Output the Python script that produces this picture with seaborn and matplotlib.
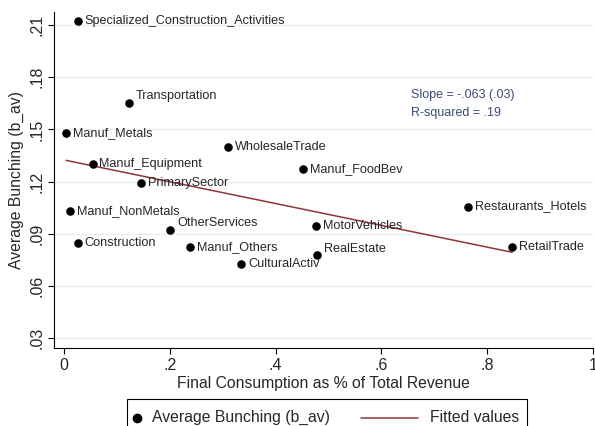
import numpy as np
import pandas as pd
import matplotlib
matplotlib.use("Agg")
import matplotlib.pyplot as plt
import seaborn as sns
from matplotlib.lines import Line2D
from matplotlib.patches import Rectangle

sectors = ["Specialized_Construction_Activities", "Transportation", "Manuf_Metals",
           "WholesaleTrade", "Manuf_Equipment", "PrimarySector", "Manuf_FoodBev",
           "Restaurants_Hotels", "MotorVehicles", "RealEstate", "RetailTrade",
           "Manuf_NonMetals", "OtherServices", "Construction", "Manuf_Others",
           "CulturalActiv"]
final_cons = [0.026, 0.123, 0.004, 0.310, 0.054, 0.146, 0.451, 0.763, 0.477,
              0.478, 0.847, 0.012, 0.201, 0.026, 0.239, 0.335]
bunching = [0.2121, 0.1653, 0.1479, 0.1399, 0.1300, 0.1194, 0.1274, 0.1057,
            0.0944, 0.0776, 0.0827, 0.1033, 0.0925, 0.0846, 0.0826, 0.0728]
# labels drawn above-right instead of to the right
above = ["Transportation", "OtherServices", "RealEstate"]

x_ticks = [0, 0.2, 0.4, 0.6, 0.8, 1.0]
x_ticklabels = ["0", ".2", ".4", ".6", ".8", "1"]
y_ticks = [0.03, 0.06, 0.09, 0.12, 0.15, 0.18, 0.21]
y_ticklabels = [".03", ".06", ".09", ".12", ".15", ".18", ".21"]

df = pd.DataFrame({"sector": sectors, "fc": final_cons, "b_av": bunching})

sns.set_style("white")
plt.rcParams["font.family"] = ["Liberation Sans", "DejaVu Sans"]

W, H = 595, 426
fig = plt.figure(figsize=(W / 100, H / 100), dpi=100)
ax = fig.add_axes([54.3 / W, 1 - 348.3 / H, (593 - 54.3) / W, (348.3 - 12) / H])

line_col = "#90353b"
sns.regplot(data=df, x="fc", y="b_av", ax=ax, ci=None, scatter=False,
            line_kws=dict(color=line_col, lw=1.1))
sns.scatterplot(data=df, x="fc", y="b_av", ax=ax, color="black", s=38,
                edgecolor="black", linewidth=0, zorder=3)

for _, r in df.iterrows():
    dy = 5 if r["sector"] in above else 0
    ax.annotate(r["sector"], (r["fc"], r["b_av"]), xytext=(5, dy),
                textcoords="offset points", fontsize=9.1, va="center", ha="left")

ax.text(0.6557, 0.1696, "Slope = -.063 (.03)", color="#3b4a78", fontsize=9, va="center")
ax.text(0.6557, 0.1596, "R-squared = .19", color="#3b4a78", fontsize=9, va="center")

ax.set_xlim(-0.0183, 1.0)
ax.set_ylim(0.0243, 0.2174)
ax.set_xticks(x_ticks)
ax.set_xticklabels(x_ticklabels)
ax.set_yticks(y_ticks)
ax.set_yticklabels(y_ticklabels, rotation=90, va="center")
ax.tick_params(axis="both", direction="out", length=4, width=0.8, color="black",
               labelsize=11.5, pad=3, left=True, bottom=True)
ax.grid(axis="y", color="#e6eff1", lw=1)
ax.set_axisbelow(True)
for s in ["top", "right"]:
    ax.spines[s].set_visible(False)
for s in ["left", "bottom"]:
    ax.spines[s].set_color("black")
    ax.spines[s].set_linewidth(0.8)

ax.set_xlabel("Final Consumption as % of Total Revenue", fontsize=11.3, labelpad=2)
ax.set_ylabel("Average Bunching (b_av)", fontsize=11.3, labelpad=4)

# legend box (Stata style, cut at the bottom edge)
def fx(px):
    return px / W

def fy(py):
    return 1 - py / H

fig.patches.append(Rectangle((fx(127.3), fy(440)), fx(527) - fx(127.3), fy(399) - fy(440),
                             transform=fig.transFigure, fill=False, edgecolor="black",
                             lw=0.8, clip_on=False))
fig.lines.append(Line2D([fx(136.7)], [fy(417.7)], marker="o", color="black",
                        markersize=6, ls="none", transform=fig.transFigure))
fig.text(fx(151.7), fy(417.7), "Average Bunching (b_av)", fontsize=11.3, va="center")
fig.lines.append(Line2D([fx(360.7), fx(418.3)], [fy(417.7), fy(417.7)], color=line_col,
                        lw=1.1, transform=fig.transFigure))
fig.text(fx(430), fy(417.7), "Fitted values", fontsize=11.3, va="center")

fig.savefig("out.png", dpi=100)
